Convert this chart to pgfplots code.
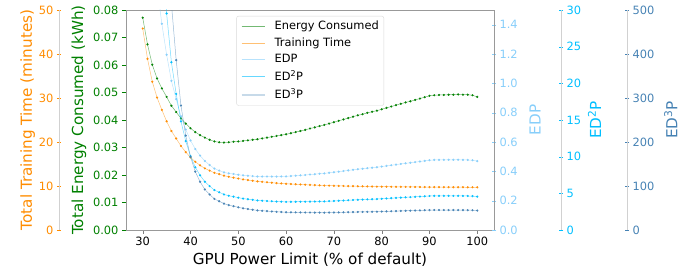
\documentclass[border=0pt]{standalone}
\usepackage{fontspec}
\setmainfont{DejaVu Sans}
\usepackage{pgfplots}
\usepackage{pgfplotstable}
\pgfplotsset{compat=1.18}
\definecolor{cE}{HTML}{008000}
\definecolor{cT}{HTML}{FF8C00}
\definecolor{cEDP}{HTML}{87CEFA}
\definecolor{cEDtwo}{HTML}{00BFFF}
\definecolor{cEDthree}{HTML}{4682B4}
\pgfplotstableread{
x E t EDP EDtwo EDthree
30 0.0772 45.8 3.536 161.9 7416
31 0.0675 38.9 2.626 102.1 3973
32 0.0601 33.7 2.025 68.26 2300
33 0.0551 30.1 1.659 49.92 1503
34 0.0515 27.3 1.406 38.38 1048
35 0.0484 24.7 1.195 29.53 729.3
36 0.0452 22.5 1.017 22.88 514.8
37 0.0429 20.8 0.8923 18.56 386.1
38 0.0406 19.1 0.7755 14.81 282.9
39 0.0387 17.7 0.6850 12.12 214.6
40 0.0370 16.5 0.6105 10.07 166.2
41 0.0356 15.5 0.5518 8.553 132.6
42 0.0345 14.7 0.5072 7.455 109.6
43 0.0336 14.0 0.4704 6.586 92.20
44 0.0328 13.5 0.4428 5.978 80.70
45 0.0322 13.0 0.4186 5.442 70.74
46 0.0319 12.7 0.4051 5.145 65.34
47 0.0318 12.35 0.3927 4.850 59.90
48 0.0319 12.1 0.3860 4.671 56.51
49 0.0321 11.9 0.3820 4.546 54.09
50 0.0322 11.7 0.3767 4.408 51.57
51 0.0324 11.5 0.3726 4.285 49.28
52 0.0326 11.35 0.3700 4.200 47.67
53 0.0328 11.2 0.3674 4.115 46.08
54 0.0330 11.05 0.3647 4.029 44.52
55 0.0333 10.95 0.3646 3.993 43.72
56 0.0336 10.85 0.3646 3.956 42.92
57 0.0339 10.75 0.3644 3.918 42.11
58 0.0342 10.65 0.3642 3.879 41.31
59 0.0345 10.58 0.3650 3.862 40.86
60 0.0348 10.5 0.3654 3.837 40.28
61 0.0352 10.45 0.3678 3.844 40.17
62 0.0356 10.4 0.3702 3.851 40.05
63 0.0360 10.35 0.3726 3.856 39.91
64 0.0364 10.3 0.3749 3.862 39.77
65 0.0369 10.25 0.3782 3.877 39.74
66 0.0373 10.2 0.3805 3.881 39.58
67 0.0378 10.15 0.3837 3.894 39.53
68 0.0382 10.1 0.3858 3.897 39.36
69 0.0387 10.08 0.3901 3.932 39.64
70 0.0392 10.05 0.3940 3.959 39.79
71 0.0397 10.02 0.3978 3.986 39.94
72 0.0402 10.0 0.4020 4.020 40.20
73 0.0407 9.98 0.4062 4.054 40.46
74 0.0412 9.96 0.4104 4.087 40.71
75 0.0417 9.94 0.4145 4.120 40.96
76 0.0421 9.92 0.4176 4.143 41.10
77 0.0426 9.90 0.4217 4.175 41.33
78 0.0430 9.88 0.4248 4.197 41.47
79 0.0434 9.86 0.4279 4.219 41.60
80 0.0439 9.85 0.4324 4.259 41.95
81 0.0444 9.84 0.4369 4.299 42.30
82 0.0449 9.83 0.4414 4.339 42.65
83 0.0454 9.82 0.4458 4.378 42.99
84 0.0459 9.81 0.4503 4.417 43.33
85 0.0464 9.80 0.4547 4.456 43.67
86 0.0468 9.79 0.4582 4.486 43.91
87 0.0473 9.78 0.4626 4.524 44.25
88 0.0478 9.77 0.4670 4.563 44.58
89 0.0483 9.76 0.4714 4.601 44.91
90 0.0488 9.75 0.4758 4.639 45.23
91 0.0490 9.75 0.4778 4.658 45.42
92 0.0491 9.74 0.4782 4.658 45.37
93 0.0491 9.74 0.4782 4.658 45.37
94 0.0492 9.73 0.4787 4.658 45.32
95 0.0492 9.73 0.4787 4.658 45.32
96 0.0493 9.72 0.4792 4.658 45.27
97 0.0492 9.72 0.4782 4.648 45.18
98 0.0492 9.71 0.4777 4.639 45.04
99 0.0490 9.71 0.4758 4.620 44.86
100 0.0484 9.70 0.4695 4.554 44.17
}\data

\newcommand{\lblfont}{\fontsize{15.2}{18}\selectfont}
\newcommand{\tkfont}{\fontsize{11.4}{13}\selectfont}
\pgfplotsset{
  base/.style={scale only axis, width=368pt, height=220pt, xmin=26.5, xmax=103.5,
    at={(0pt,0pt)}, anchor=south west,
    tick label style={font=\tkfont},
    /pgf/number format/assume math mode=true,
    tick align=outside, major tick length=4pt, scaled y ticks=false},
  spine/.style={axis line style={black!18, line width=0.8pt, -},
    every outer y axis line/.append style={-}, every inner y axis line/.append style={-}},
  ser/.style={#1, line width=0.5pt, draw opacity=0.55, mark=*, mark size=0.85pt,
    mark options={draw opacity=0.9, fill opacity=0.9}},
}

\begin{document}
\begin{tikzpicture}
% Energy (main)
\begin{axis}[base, ymin=0, ymax=0.08,
  ytick={0,0.01,0.02,0.03,0.04,0.05,0.06,0.07,0.08},
  xtick={30,40,50,60,70,80,90,100}, xtick pos=bottom, ytick pos=left,
  axis line style={black!40, line width=0.8pt}, xtick style={black!50}, ytick style={cE},
  yticklabel style={cE, /pgf/number format/.cd, fixed, fixed zerofill, precision=2},
  ylabel={Total Energy Consumed (kWh)}, ylabel style={cE, font=\lblfont},
  xlabel={GPU Power Limit (\% of default)}, xlabel style={font=\lblfont}]
\addplot[ser=cE] table[x=x, y=E]{\data};
\end{axis}
% Training time data
\begin{axis}[base, hide axis, ymin=0, ymax=50]
\addplot[ser=cT] table[x=x, y=t]{\data};
\end{axis}
% Training time spine
\begin{axis}[base, at={(-67pt,0pt)}, hide x axis, axis y line=left, spine,
  ymin=0, ymax=50, ytick={0,10,20,30,40,50}, ytick style={cT}, yticklabel style={cT},
  ylabel={Total Training Time (minutes)}, ylabel style={cT, font=\lblfont}, ylabel shift=-3pt]
\addplot[draw=none] coordinates {(30,0)};
\end{axis}
% EDP
\begin{axis}[base, hide x axis, axis y line=right, spine, axis line style={black!40},
  ymin=0, ymax=1.5, ytick={0,0.2,0.4,0.6,0.8,1.0,1.2,1.4}, ytick style={cEDP},
  yticklabel style={cEDP, /pgf/number format/.cd, fixed, fixed zerofill, precision=1},
  ylabel={EDP}, ylabel style={cEDP, font=\lblfont}, ylabel shift=5pt]
\addplot[ser=cEDP] table[x=x, y=EDP]{\data};
\end{axis}
% ED2P data
\begin{axis}[base, hide axis, ymin=0, ymax=30]
\addplot[ser=cEDtwo] table[x=x, y=EDtwo]{\data};
\end{axis}
% ED3P data + legend
\begin{axis}[base, hide axis, ymin=0, ymax=500,
  legend cell align=left,
  legend image code/.code={\draw[#1] (1pt,0pt) -- (24pt,0pt); \path (0pt,0pt) (31pt,0pt);},
  legend style={at={(0.30,0.973)}, anchor=north west, draw=black!15, rounded corners=2pt,
    fill=white, font=\tkfont, row sep=2.6pt, inner sep=3pt}]
\addplot[ser=cEDthree, forget plot] table[x=x, y=EDthree]{\data};
\addlegendimage{cE!55!white, line width=0.7pt}
\addlegendentry{Energy Consumed}
\addlegendimage{cT!55!white, line width=0.7pt}
\addlegendentry{Training Time}
\addlegendimage{cEDP!60!white, line width=0.7pt}
\addlegendentry{EDP}
\addlegendimage{cEDtwo!60!white, line width=0.7pt}
\addlegendentry{ED\textsuperscript{2}P}
\addlegendimage{cEDthree!30!white, line width=2pt}
\addlegendentry{ED\textsuperscript{3}P}
\end{axis}
% ED2P spine
\begin{axis}[base, at={(67pt,0pt)}, hide x axis, axis y line=right, spine,
  ymin=0, ymax=30, ytick={0,5,10,15,20,25,30}, ytick style={cEDtwo}, yticklabel style={cEDtwo},
  ylabel={ED\textsuperscript{2}P}, ylabel style={cEDtwo, font=\lblfont}]
\addplot[draw=none] coordinates {(30,0)};
\end{axis}
% ED3P spine
\begin{axis}[base, at={(133pt,0pt)}, hide x axis, axis y line=right, spine,
  ymin=0, ymax=500, ytick={0,100,200,300,400,500}, ytick style={cEDthree}, yticklabel style={cEDthree},
  ylabel={ED\textsuperscript{3}P}, ylabel style={cEDthree, font=\lblfont}, ylabel shift=3pt]
\addplot[draw=none] coordinates {(30,0)};
\end{axis}
\pgfresetboundingbox
\path[use as bounding box] (-126pt,-40pt) rectangle (571pt,230pt);
\end{tikzpicture}
\end{document}
